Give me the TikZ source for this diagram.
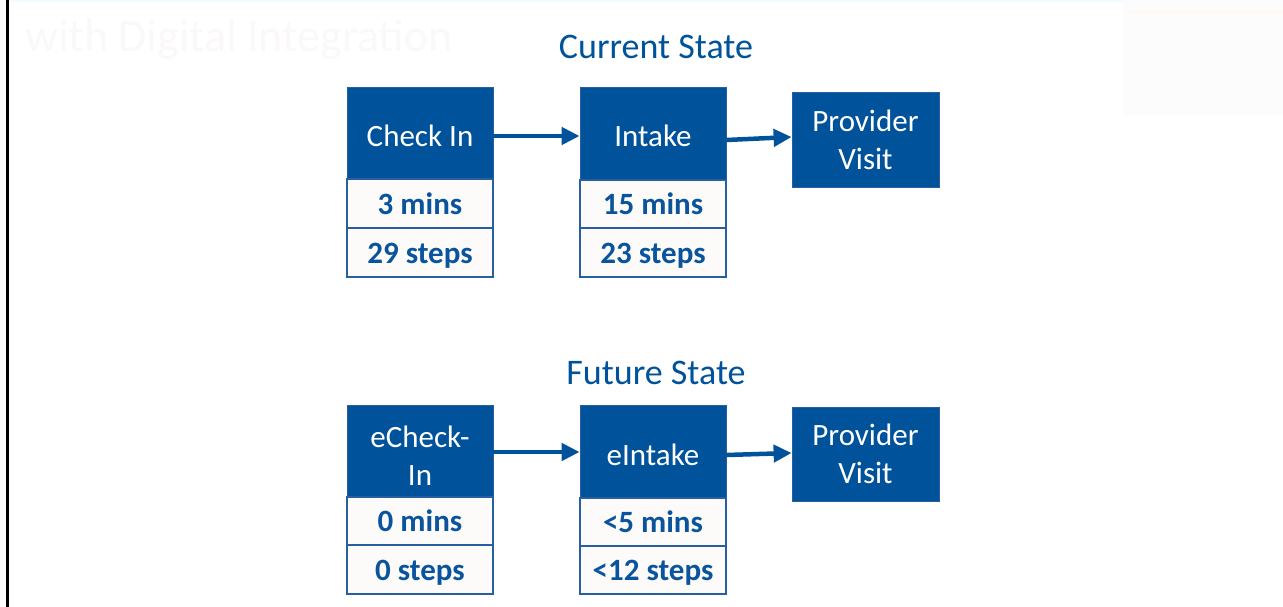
\documentclass[tikz,border=0pt]{standalone}
\usepackage{fontspec}
\setmainfont{Carlito}
\usetikzlibrary{arrows.meta}
\definecolor{boxblue}{RGB}{0,83,155}
\definecolor{edgeblue}{RGB}{40,95,160}
\definecolor{cellbg}{RGB}{252,251,249}
\definecolor{textblue}{RGB}{10,84,158}
\definecolor{ghost}{RGB}{251,249,248}
\definecolor{haze}{RGB}{252,252,252}
\tikzset{
  headbox/.style={fill=boxblue, draw=edgeblue, line width=0.8pt, text=white,
    minimum width=146pt, inner sep=0pt, align=center,
    font=\fontsize{31pt}{38pt}\selectfont},
  onelinehead/.style={headbox, text height=30pt, text depth=3pt},
  cellbox/.style={fill=cellbg, draw=edgeblue, line width=1.2pt, text=textblue,
    minimum width=146pt, inner sep=0pt, text height=21.5pt, text depth=0pt,
    font=\fontsize{31pt}{36pt}\selectfont\bfseries},
  title/.style={text=boxblue, font=\fontsize{36pt}{42pt}\selectfont},
  flow/.style={draw=boxblue, line width=4.5pt,
    -{Triangle[length=18pt,width=17pt]}}
}
\begin{document}
\begin{tikzpicture}[x=1pt,y=-1pt]
\useasboundingbox (0,0) rectangle (1283,607);
\fill[white] (0,0) rectangle (1283,607);
% faint header remnants
\fill[cyan!5] (9,0) rectangle (1283,2);
\fill[haze] (1123,0) rectangle (1283,115);
\fill[orange!4] (1123,11) rectangle (1283,14);
\node[text=ghost, anchor=base west, font=\fontsize{46pt}{52pt}\selectfont, inner sep=0pt]
  (ghosttitle) at (25,52) {with Digital Integration};
% frame edge
\draw[line width=3pt, black] (7.5,0) -- (7.5,607);

% current state
\node[title] (curtitle) at (656,47) {Current State};
\node[onelinehead, minimum height=92pt] (checkin) at (420,133) {Check In};
\node[cellbox, minimum height=49pt] (checkinmin) at (420,203.5) {3 mins};
\node[cellbox, minimum height=49pt] (checkinstep) at (420,252.5) {29 steps};
\node[onelinehead, minimum height=93pt] (intake) at (653,133.5) {Intake};
\node[cellbox, minimum height=48pt] (intakemin) at (653,204) {15 mins};
\node[cellbox, minimum height=49pt] (intakestep) at (653,252.5) {23 steps};
\node[headbox, minimum width=147pt, minimum height=95pt] (provider) at (865.5,139.5) {Provider\\Visit};
\draw[flow] ([yshift=-3pt]checkin.east) -- ([yshift=-2.5pt]intake.west);
\draw[flow] ([yshift=-6.5pt]intake.east) -- ([yshift=2.5pt]provider.west);

% future state
\node[title] (futtitle) at (656,373) {Future State};
\node[headbox, minimum height=92pt, text height=69pt] (echeckin) at (420,451) {eCheck-\\In};
\node[cellbox, minimum height=48pt] (echeckinmin) at (420,521) {0 mins};
\node[cellbox, minimum height=49pt] (echeckinstep) at (420,569.5) {0 steps};
\node[onelinehead, minimum height=93pt] (eintake) at (653,451.5) {eIntake};
\node[cellbox, minimum height=48pt] (eintakemin) at (653,522) {<5 mins};
\node[cellbox, minimum height=48pt] (eintakestep) at (653,570) {<12 steps};
\node[headbox, minimum width=147pt, minimum height=94pt] (eprovider) at (865.5,454) {Provider\\Visit};
\draw[flow] ([yshift=-1pt]echeckin.east) -- ([yshift=-0.5pt]eintake.west);
\draw[flow] ([yshift=-3.5pt]eintake.east) -- ([yshift=1pt]eprovider.west);
\end{tikzpicture}
\end{document}
